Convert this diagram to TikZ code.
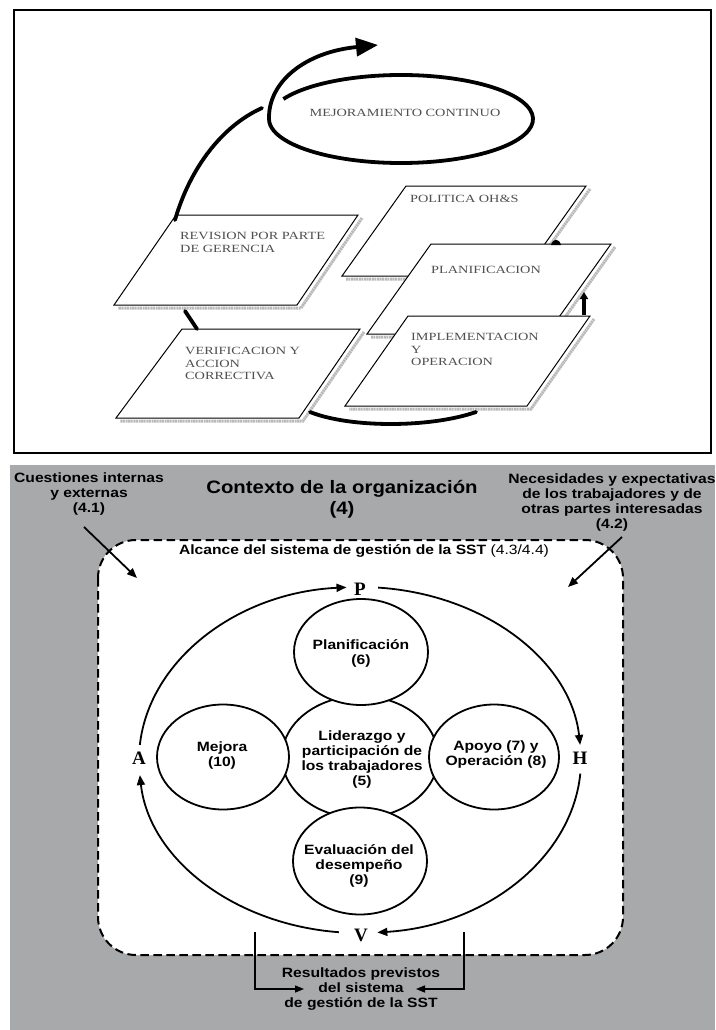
\documentclass[tikz,border=0pt]{standalone}
\usepackage{fontspec}
\setmainfont{Liberation Serif}
\newfontfamily\topfont{Liberation Serif}[FakeStretch=1.3]
\newfontfamily\bfont{Liberation Sans}[FakeStretch=1.16]
\newfontfamily\titlefont{Liberation Sans}[FakeStretch=1.13]
\newfontfamily\pfont{Liberation Serif}
\usetikzlibrary{arrows.meta,shapes.geometric}
\definecolor{panelgray}{RGB}{167,169,170}
\definecolor{toptext}{RGB}{80,80,80}
\definecolor{shadowgray}{RGB}{185,185,185}
\tikzset{
  frame/.style={draw=black,line width=1.6pt},
  para/.style={draw=black,line width=1pt,fill=white,line join=miter},
  shade/.style={draw=shadowgray,line width=3pt,dash pattern=on 2pt off 0.6pt},
  heavy/.style={line width=3.8pt,line cap=round},
  toplabel/.style={font=\topfont\fontsize{11}{12.2}\selectfont,text=toptext,align=left,inner sep=0pt,anchor=west},
  blabel/.style={font=\bfont\bfseries\fontsize{13.5}{15}\selectfont,align=center,inner sep=0pt},
  ring/.style={draw=black,line width=1.8pt,fill=white,ellipse,inner sep=0pt},
  cyc/.style={draw=black,line width=1.8pt,-{Triangle[length=10pt,width=8pt]}},
  pointer/.style={draw=black,line width=1.8pt,-{Triangle[length=10pt,width=8pt]}},
  bracket/.style={draw=black,line width=1.4pt,-{Triangle[length=9pt,width=7pt]}},
  letter/.style={font=\pfont\bfseries\fontsize{19}{19}\selectfont,inner sep=0pt},
  scope/.style={draw=black,line width=2pt,dash pattern=on 8.5pt off 4.5pt,fill=white,rounded corners=38pt}
}
\begin{document}
\begin{tikzpicture}[x=1pt,y=-1pt]
\useasboundingbox (0,0) rectangle (715,1030);
\clip (0,0) rectangle (715,1030);
\fill[white] (0,0) rectangle (715,1030);

% ================= TOP PANEL =================
\draw[frame] (14,10) rectangle (711,453);

% parallelogram corners
\coordinate (rTL) at (176,215); \coordinate (rTR) at (358,215);
\coordinate (rBR) at (297,305); \coordinate (rBL) at (114,305);
\coordinate (vTL) at (182,329); \coordinate (vTR) at (360,329);
\coordinate (vBR) at (299,418); \coordinate (vBL) at (116,418);
\coordinate (pTL) at (406,186); \coordinate (pTR) at (586,186);
\coordinate (pBR) at (522,276); \coordinate (pBL) at (342,276);
\coordinate (lTL) at (431,244); \coordinate (lTR) at (611,244);
\coordinate (lBR) at (547,334); \coordinate (lBL) at (367,334);
\coordinate (iTL) at (408,316); \coordinate (iTR) at (590,316);
\coordinate (iBR) at (527,406); \coordinate (iBL) at (345,406);

\foreach \p in {r,v,p,l,i}{
  \draw[shade] ([shift={(4,3)}]\p TR) -- ([shift={(4,3)}]\p BR) -- ([shift={(4,3)}]\p BL);
  \draw[para] (\p TL) -- (\p TR) -- (\p BR) -- (\p BL) -- cycle;
}

% heavy connectors
\coordinate (revtop) at (175,220);
\coordinate (loopin) at (262,108);
\draw[heavy] (revtop) .. controls (190,168) and (222,126) .. (loopin);
\coordinate (revbot) at (185,311);
\coordinate (vertop) at (197,329);
\draw[heavy] (revbot) -- (vertop);
\coordinate (verright) at (310,412);
\coordinate (impleft) at (476,412);
\draw[heavy] (verright) .. controls (350,428) and (430,428) .. (impleft);
\coordinate (impup) at (584,315);
\coordinate (planlow) at (584,292);
\draw[line width=3.8pt,-{Triangle[length=7pt,width=8pt]}] (impup) -- (planlow);
\fill (551,245) .. controls (553,238) and (559,238) .. (561,245) -- cycle;

% improvement loop
\coordinate (loopc) at (401,119);
\coordinate (looptip) at (378,45);
\draw[line width=3.8pt,-{Triangle[length=22pt,width=18pt]}]
  (loopc) ++(207:132 and 44) arc[start angle=207,end angle=540,x radius=132,y radius=44]
  .. controls (268,82) and (305,52) .. (looptip);

% top labels
\node[toplabel,anchor=center] (mej) at (405,113) {MEJORAMIENTO CONTINUO};
\node[toplabel] (pol) at (410,199) {POLITICA OH\&S};
\node[toplabel] (rev) at (180,242.5) {REVISION POR PARTE\\DE GERENCIA};
\node[toplabel] (pla) at (431,270) {PLANIFICACION};
\node[toplabel] (imp) at (411,349.5) {IMPLEMENTACION\\Y\\OPERACION};
\node[toplabel] (ver) at (185,363.5) {VERIFICACION Y\\ACCION\\CORRECTIVA};

% ================= BOTTOM PANEL =================
\fill[panelgray] (10,465) rectangle (715,1030);

\node[blabel] (cuest) at (89,494.5) {Cuestiones internas\\y externas\\(4.1)};
\node[font=\titlefont\bfseries\fontsize{18}{21}\selectfont,align=center,inner sep=0pt] (ctx) at (342,499) {Contexto de la organización\\(4)};
\node[blabel] (nec) at (612,502.5) {Necesidades y expectativas\\de los trabajadores y de\\otras partes interesadas\\(4.2)};

\draw[scope] (98,540) rectangle (623,955);
\node[blabel] (alc) at (364,551) {Alcance del sistema de gestión de la SST {\mdseries(4.3/4.4)}};

\coordinate (inL) at (137,578);
\coordinate (inR) at (568,587);
\draw[pointer] (84,527) -- (inL);
\draw[pointer] (622,537) -- (inR);

% PHVA cycle
\node[letter] (P) at (360,589) {P};
\node[letter] (H) at (580,758) {H};
\node[letter] (V) at (361,935) {V};
\node[letter] (A) at (139,758) {A};
\coordinate (cc) at (360,760);
\draw[cyc] (cc) ++(185:221 and 173) arc[start angle=185,end angle=266.5,x radius=221,y radius=173];
\draw[cyc] (cc) ++(274.7:221 and 173) arc[start angle=274.7,end angle=355,x radius=221,y radius=173];
\draw[cyc] (cc) ++(4.5:221 and 173) arc[start angle=4.5,end angle=85.5,x radius=221,y radius=173];
\draw[cyc] (cc) ++(95.5:221 and 173) arc[start angle=95.5,end angle=175,x radius=221,y radius=173];

% circles
\node[ring,minimum width=156,minimum height=122] (lid) at (360,757) {};
\node[ring,minimum width=134,minimum height=106] (plan) at (361,652) {};
\node[ring,minimum width=132,minimum height=105] (mejora) at (223,757) {};
\node[ring,minimum width=130,minimum height=105] (apoyo) at (494,757) {};
\node[ring,minimum width=134,minimum height=107] (eval) at (360,861) {};

\node[blabel] (tplan) at (361,653.5) {Planificación\\(6)};
\node[blabel] (tlid) at (362,759.5) {Liderazgo y\\participación de\\los trabajadores\\(5)};
\node[blabel] (tmej) at (222,755.5) {Mejora\\(10)};
\node[blabel] (tapo) at (496,755) {Apoyo (7) y\\Operación (8)};
\node[blabel] (teva) at (359,866) {Evaluación del\\desempeño\\(9)};

% results
\node[blabel] (res) at (361,989) {Resultados previstos\\del sistema\\de gestión de la SST};
\coordinate (bl) at (255,932);
\coordinate (br) at (464,932);
\draw[bracket] (bl) |- (304,989);
\draw[bracket] (br) |- (416,989);
\end{tikzpicture}
\end{document}
